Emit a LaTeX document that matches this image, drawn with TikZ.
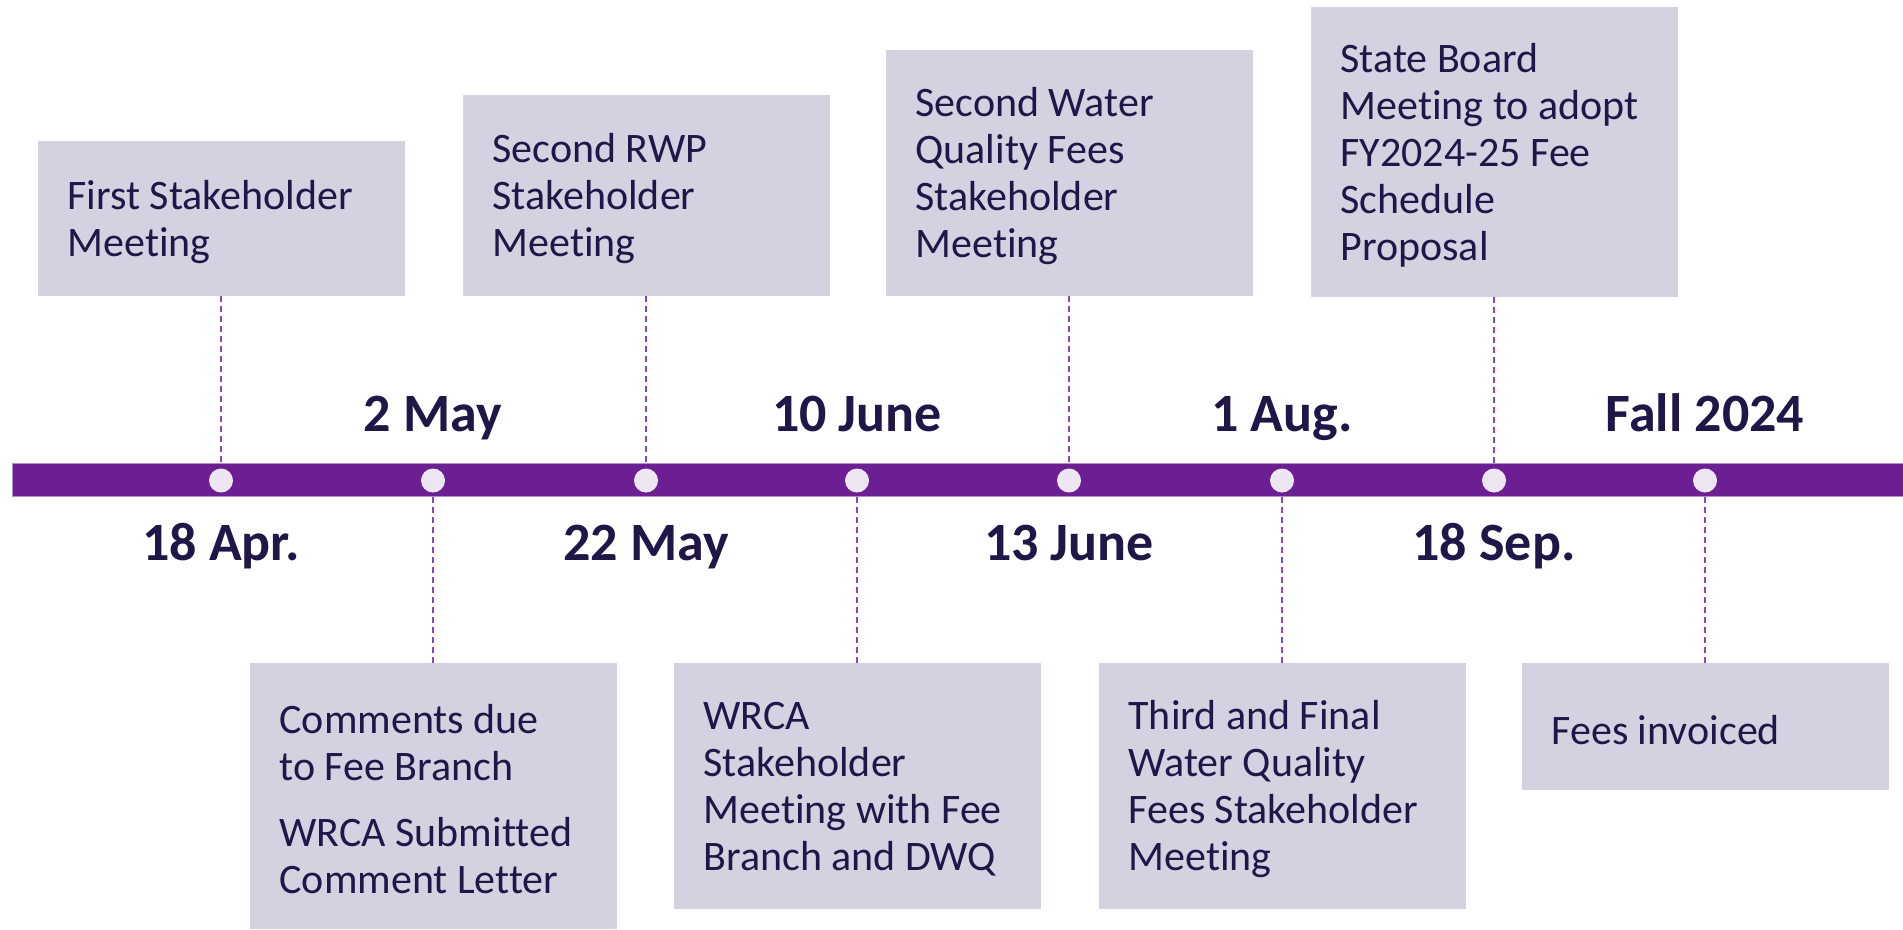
\documentclass[tikz,border=0pt]{standalone}
\usepackage{fontspec}
\setmainfont{Carlito}[Ligatures=CommonOff]
\definecolor{ink}{RGB}{32,22,72}
\definecolor{boxfill}{RGB}{213,209,225}
\definecolor{barpurple}{RGB}{107,31,147}
\definecolor{barline}{RGB}{180,143,208}
\definecolor{dotfill}{RGB}{237,229,242}
\definecolor{linepurple}{RGB}{140,70,190}
\tikzset{
  evbox/.style={rectangle, fill=boxfill, draw=none, minimum width=367pt, inner sep=0pt, anchor=north},
  evtext/.style={anchor=west, align=left, inner sep=0pt, text=ink, yshift=-3pt, font=\fontsize{42}{47}\selectfont},
  datelbl/.style={anchor=base, text=ink, font=\bfseries\fontsize{54}{64}\selectfont},
  dot/.style={circle, fill=dotfill, minimum size=24pt, inner sep=0pt},
  conn/.style={draw=linepurple, line width=1.3pt, dash pattern=on 6pt off 4pt},
}
\begin{document}
\begin{tikzpicture}[x=1pt,y=-1pt]
\useasboundingbox (0,0) rectangle (1903,929);

% timeline bar
\node[rectangle, fill=barpurple, draw=barline, line width=1pt, inner sep=0pt,
      minimum width=1895pt, minimum height=33pt, anchor=west] (bar) at (12,479.5) {};

% milestone dots
\foreach \i/\x in {1/221,2/433,3/646,4/857,5/1069,6/1282,7/1494,8/1705}
  \node[dot] (c\i) at (\x,480.5) {};

% events above the bar
\node[evbox, minimum height=155pt] (b1) at (221,141) {};
\node[evbox, minimum height=201pt] (b2) at (646,95) {};
\node[evbox, minimum height=246pt] (b3) at (1069,50) {};
\node[evbox, minimum height=290pt] (b4) at (1494,7) {};

% events below the bar
\node[evbox, minimum height=266pt] (b5) at (433,663) {};
\node[evbox, minimum height=246pt] (b6) at (857,663) {};
\node[evbox, minimum height=246pt] (b7) at (1282,663) {};
\node[evbox, minimum height=127pt] (b8) at (1705,663) {};

\node[evtext] (t1) at ([xshift=30pt]b1.west) {First Stakeholder\\Meeting};
\node[evtext] (t2) at ([xshift=30pt]b2.west) {Second RWP\\Stakeholder\\Meeting};
\node[evtext] (t3) at ([xshift=30pt]b3.west) {Second Water\\Quality Fees\\Stakeholder\\Meeting};
\node[evtext] (t4) at ([xshift=30pt]b4.west) {State Board\\Meeting to adopt\\FY2024-25 Fee\\Schedule\\Proposal};
\node[evtext] (t5) at ([xshift=30pt]b5.west) {Comments due\\to Fee Branch\\[19pt]WRCA Submitted\\Comment Letter};
\node[evtext] (t6) at ([xshift=30pt]b6.west) {WRCA\\Stakeholder\\Meeting with Fee\\Branch and DWQ};
\node[evtext] (t7) at ([xshift=30pt]b7.west) {Third and Final\\Water Quality\\Fees Stakeholder\\Meeting};
\node[evtext] (t8) at ([xshift=30pt]b8.west) {Fees invoiced};

% dashed leaders from the boxes to the bar
\foreach \b in {b1,b2,b3,b4}
  \draw[conn] (\b.south) -- (\b.south |- bar.north);
\foreach \b in {b5,b6,b7,b8}
  \draw[conn] (\b.north) -- (\b.north |- bar.south);

% dates
\node[datelbl] (d1) at (221,560) {18 Apr.};
\node[datelbl] (d2) at (433,431) {2 May};
\node[datelbl] (d3) at (646,560) {22 May};
\node[datelbl] (d4) at (857,431) {10 June};
\node[datelbl] (d5) at (1069,560) {13 June};
\node[datelbl] (d6) at (1282,431) {1 Aug.};
\node[datelbl] (d7) at (1494,560) {18 Sep.};
\node[datelbl] (d8) at (1705,431) {Fall 2024};
\end{tikzpicture}
\end{document}
